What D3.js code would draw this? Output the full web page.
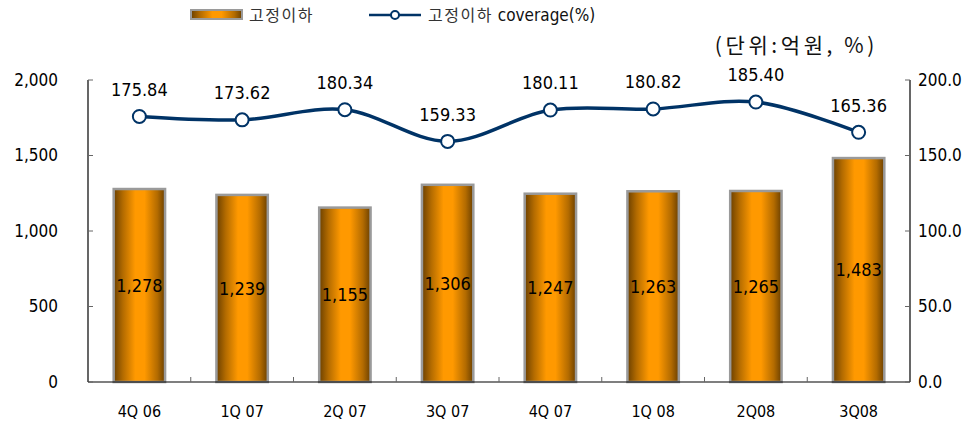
<!DOCTYPE html>
<html><head><meta charset="utf-8">
<script src="https://cdn.jsdelivr.net/npm/d3@7"></script>
<style>body{margin:0;background:#fff}svg{display:block}</style>
</head><body>
<svg id="c" width="980" height="424"></svg>
<script>
const categories = ["4Q 06","1Q 07","2Q 07","3Q 07","4Q 07","1Q 08","2Q08","3Q08"];
const barValues = [1278,1239,1155,1306,1247,1263,1265,1483];
const coverageValues = [175.84,173.62,180.34,159.33,180.11,180.82,185.40,165.36];
const leftTicks = [0,500,1000,1500,2000];
const rightTicks = [0,50,100,150,200];
const seriesNames = ["고정이하","고정이하"," coverage(%)"];
const unitLabel = "(단위:억원, %)";

const svg = d3.select("#c");
const font = "Tahoma, 'DejaVu Sans Condensed', 'DejaVu Sans', sans-serif";
const kr = "'Noto Sans CJK KR', sans-serif";
const m = {l:88, r:910, t:80, b:382};
const x = d3.scaleBand().domain(categories).range([m.l,m.r]).paddingInner(0.5).paddingOuter(0.25);
const xb = d3.scaleBand().domain(categories).range([m.l,m.r]);
const yL = d3.scaleLinear().domain([0,2000]).range([m.b,m.t]);
const yR = d3.scaleLinear().domain([0,200]).range([m.b,m.t]);

const defs = svg.append("defs");
const g = defs.append("linearGradient").attr("id","bg").attr("x1","0").attr("x2","1").attr("y1","0").attr("y2","0");
[[0,"#6b4000"],[0.18,"#b36b00"],[0.42,"#ff9900"],[0.6,"#ff9900"],[0.85,"#b36b00"],[1,"#6b4000"]].forEach(s=>g.append("stop").attr("offset",s[0]).attr("stop-color",s[1]));

// bars
svg.append("g").selectAll("rect").data(barValues).join("rect")
  .attr("x",(d,i)=>x(categories[i])).attr("width",x.bandwidth())
  .attr("y",d=>yL(d)).attr("height",d=>yL(0)-yL(d))
  .attr("fill","url(#bg)").attr("stroke","#9a9a9a").attr("stroke-width",2.5);

// axes lines
const ax = svg.append("g").attr("stroke","#000").attr("stroke-width",1.2);
ax.append("line").attr("x1",m.l).attr("x2",m.l).attr("y1",m.t).attr("y2",m.b);
ax.append("line").attr("x1",m.r).attr("x2",m.r).attr("y1",m.t).attr("y2",m.b);
ax.append("line").attr("x1",m.l).attr("x2",m.r).attr("y1",m.b).attr("y2",m.b);

// ticks
const tk = svg.append("g").attr("stroke","#666").attr("stroke-width",1);
leftTicks.forEach(t=>tk.append("line").attr("x1",m.l).attr("x2",m.l+5).attr("y1",yL(t)).attr("y2",yL(t)));
rightTicks.forEach(t=>tk.append("line").attr("x1",m.r-5).attr("x2",m.r).attr("y1",yR(t)).attr("y2",yR(t)));
categories.slice(1).forEach(c=>tk.append("line").attr("x1",xb(c)).attr("x2",xb(c)).attr("y1",m.b).attr("y2",m.b-5));

// tick labels
const fmt = d3.format(",");
svg.append("g").selectAll("text").data(leftTicks).join("text")
  .attr("x",58).attr("y",d=>yL(d)).attr("dy","0.35em").attr("text-anchor","end")
  .attr("font-family",font).attr("font-size",17).text(d=>fmt(d));
svg.append("g").selectAll("text").data(rightTicks).join("text")
  .attr("x",918).attr("y",d=>yR(d)).attr("dy","0.35em").attr("text-anchor","start")
  .attr("font-family",font).attr("font-size",17).text(d=>d3.format(".1f")(d));
svg.append("g").selectAll("text").data(categories).join("text")
  .attr("x",d=>xb(d)+xb.bandwidth()/2).attr("y",411).attr("dy","0.35em").attr("text-anchor","middle")
  .attr("font-family",font).attr("font-size",16).text(d=>d);

// bar labels
svg.append("g").selectAll("text").data(barValues).join("text")
  .attr("x",(d,i)=>xb(categories[i])+xb.bandwidth()/2).attr("y",d=>(yL(d)+yL(0))/2).attr("dy","0.35em")
  .attr("text-anchor","middle").attr("font-family",font).attr("font-size",18).text(d=>fmt(d));

// line
const cx = (i)=>xb(categories[i])+xb.bandwidth()/2;
const line = d3.line().x((d,i)=>cx(i)).y(d=>yR(d)).curve(d3.curveCatmullRom.alpha(0.5));
svg.append("path").datum(coverageValues).attr("d",line).attr("fill","none").attr("stroke","#003366").attr("stroke-width",3.5);
svg.append("g").selectAll("circle").data(coverageValues).join("circle")
  .attr("cx",(d,i)=>cx(i)).attr("cy",d=>yR(d)).attr("r",6.5)
  .attr("fill","#fff").attr("stroke","#003366").attr("stroke-width",2);
svg.append("g").selectAll("text").data(coverageValues).join("text")
  .attr("x",(d,i)=>cx(i)).attr("y",d=>yR(d)-27).attr("dy","0.35em").attr("text-anchor","middle")
  .attr("font-family",font).attr("font-size",18).text(d=>d3.format(".2f")(d));

// unit
svg.append("text").attr("x",878).attr("y",46).attr("dy","0.35em").attr("text-anchor","end")
  .attr("font-family",kr).attr("font-size",21).attr("letter-spacing",3.6).attr("fill","#111").text(unitLabel);

// legend
const lg = svg.append("g");
lg.append("rect").attr("x",191).attr("y",10).attr("width",51).attr("height",9)
  .attr("fill","url(#bg)").attr("stroke","#9a9a9a").attr("stroke-width",2);
lg.append("text").attr("x",249).attr("y",15).attr("dy","0.35em").attr("font-family",kr).attr("font-size",16).attr("letter-spacing",1.5).attr("fill","#333").text(seriesNames[0]);
lg.append("line").attr("x1",369).attr("x2",421).attr("y1",15).attr("y2",15).attr("stroke","#003366").attr("stroke-width",2.5);
lg.append("circle").attr("cx",395).attr("cy",15).attr("r",4).attr("fill","#fff").attr("stroke","#003366").attr("stroke-width",2);
const t2 = lg.append("text").attr("x",428).attr("y",15).attr("dy","0.35em").attr("font-family",kr).attr("font-size",16).attr("fill","#333");
t2.append("tspan").attr("letter-spacing",1.5).text(seriesNames[1]);
t2.append("tspan").attr("font-family",font).attr("font-size",17).attr("fill","#111").text(seriesNames[2]);
</script>
</body></html>
